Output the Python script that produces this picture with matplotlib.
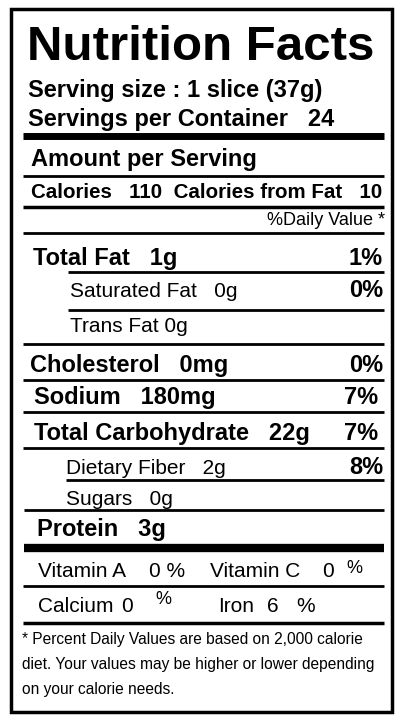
import matplotlib
matplotlib.use("Agg")
import matplotlib.pyplot as plt
from matplotlib.patches import Rectangle

plt.rcParams['font.family'] = ['Liberation Sans', 'DejaVu Sans']

title = "Nutrition Facts"
serving_size = "Serving size : 1 slice (37g)"
servings = "Servings per Container   24"
calories = "Calories   110  Calories from Fat   10"

# (label, amount, percent, bold, x, baseline)
nutrients = [
    ("Total Fat", "1g", "1%", True, 33, 265),
    ("Saturated Fat", "0g", "0%", False, 70, 297),
    ("Trans Fat", "0g", "", False, 70, 332),
    ("Cholesterol", "0mg", "0%", True, 30, 372),
    ("Sodium", "180mg", "7%", True, 34, 404),
    ("Total Carbohydrate", "22g", "7%", True, 34, 440),
    ("Dietary Fiber", "2g", "8%", False, 66, 474),
    ("Sugars", "0g", "", False, 66, 505),
    ("Protein", "3g", "", True, 37, 536),
]
footnote = ["* Percent Daily Values are based on 2,000 calorie",
            "diet. Your values may be higher or lower depending",
            "on your calorie needs."]

fig = plt.figure(figsize=(4.02, 7.2), dpi=100)
ax = fig.add_axes([0, 0, 1, 1])
ax.set_xlim(0, 402)
ax.set_ylim(720, 0)
ax.axis('off')

ax.add_patch(Rectangle((11, 9), 381, 703, fill=False, lw=2.5, ec='black'))


def hline(y, x0=23, x1=384, lw=2):
    ax.plot([x0, x1], [y, y], color='black', lw=lw, solid_capstyle='butt')


def txt(x, y, s, size, bold=True, ha='left'):
    ax.text(x, y, s, fontsize=size, fontweight='bold' if bold else 'normal',
            ha=ha, va='baseline')


txt(27, 60, title, 35.5)
txt(28, 97, serving_size, 17)
txt(28, 126, servings, 17)
hline(135.5, lw=5)
txt(31, 166, "Amount per Serving", 17)
hline(176, lw=2)
txt(31, 198, calories, 14.8)
hline(206.5, lw=2.5)
txt(385, 225, "%Daily Value *", 13, bold=False, ha='right')
hline(233, lw=2)

line_after = {"Total Fat": (68, 272), "Saturated Fat": (68, 310), "Trans Fat": (23, 344),
              "Cholesterol": (23, 380), "Sodium": (23, 412), "Total Carbohydrate": (23, 448),
              "Dietary Fiber": (66, 480), "Sugars": (24, 510)}
for label, amt, pct, bold, x, y in nutrients:
    size = 17 if bold else 15
    sep = " " if label == "Trans Fat" else "   "
    txt(x, y, label + sep + amt, size, bold=bold)
    if pct:
        right = 378 if label in ("Sodium", "Total Carbohydrate") else 383
        txt(right, y, pct, 17, ha='right')
    if label in line_after:
        x0, ly = line_after[label]
        hline(ly, x0=x0, lw=2)

hline(548, x0=24, lw=6)
txt(38, 577, "Vitamin A", 15, bold=False)
txt(149, 577, "0 %", 15, bold=False)
txt(210, 577, "Vitamin C", 15, bold=False)
txt(322, 577, "0", 15, bold=False)
txt(346, 573, "%", 13, bold=False)
hline(586, lw=2)
txt(38, 612, "Calcium", 15, bold=False)
txt(121, 612, "0", 15, bold=False)
txt(155, 604, "%", 13, bold=False)
txt(218, 612, "Iron", 15, bold=False)
txt(267, 612, "6", 15, bold=False)
txt(296, 612, "%", 15, bold=False)
hline(623, lw=2.5)
for i, line in enumerate(footnote):
    txt(22, 644 + i * 25, line, 11.2, bold=False)

fig.savefig("out.png", dpi=100)
